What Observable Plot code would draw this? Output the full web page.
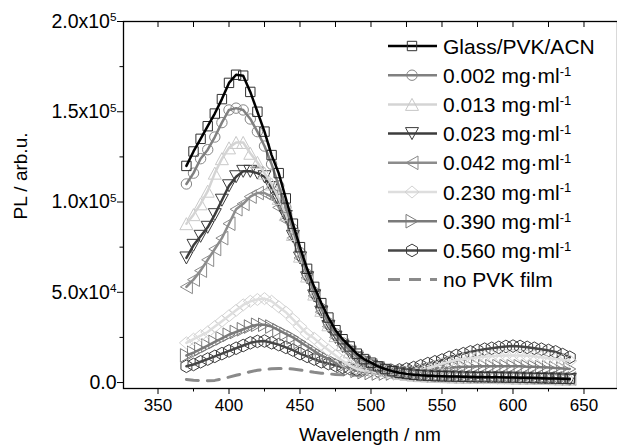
<!DOCTYPE html>
<html><head><meta charset="utf-8">
<script src="https://cdn.jsdelivr.net/npm/d3@7"></script>
<script src="https://cdn.jsdelivr.net/npm/@observablehq/plot@0.6"></script>
<style>
body{margin:0;background:#fff}
#chart{position:relative;width:617px;height:446px}
</style>
</head><body><div id="chart"></div>
<script>
// ---------- data (PL in units of 1000 arb.u.) ----------
const wavelength = [370,375,380,385,390,395,400,405,410,415,420,425,430,435,440,445,450,455,460,465,470,475,480,485,490,495,500,505,510,515,520,525,530,535,540,545,550,555,560,565,570,575,580,585,590,595,600,605,610,615,620,625,630,635,640];

const plGlass = [120,128,135,142,149,157,166,170.5,170,161,150,139,126,116,102,88,75,63,53,44,36,29,24,20,16,13,11,9,7.5,6.3,5.4,4.8,4.3,4.0,3.8,3.6,3.5,3.4,3.3,3.2,3.1,3.0,3.0,2.9,2.9,2.8,2.8,2.7,2.6,2.5,2.4,2.3,2.2,2.1,2.0];
const pl0002 = [110,116,124,129,136,144,151,152,151,146,139,131,121,109,97,85,72,60,50,41,33,27,22,18,14.5,12,10,8.5,7.2,6.2,5.4,4.8,4.4,4.1,3.9,3.7,3.6,3.5,3.4,3.3,3.2,3.2,3.1,3.0,3.0,2.9,2.9,2.8,2.7,2.6,2.5,2.4,2.3,2.2,2.1];
const pl0013 = [88,93,99,106,116,124,130,133,133,127,122,116,110,102,93,82,70,59,49,40,32,26,21,17,14,11.5,9.5,8,6.8,5.8,5.0,4.5,4.1,3.8,3.6,3.4,3.3,3.2,3.1,3.0,2.9,2.9,2.8,2.8,2.7,2.7,2.6,2.5,2.5,2.4,2.3,2.2,2.1,2.0,1.9];
const pl0023 = [69,76,81,86,93,101,109,114,117,117,116,114,108,101,92,81,69,58,48,39,31,25,20,16.5,13.5,11,9,7.5,6.4,5.5,4.8,4.3,3.9,3.6,3.4,3.2,3.1,3.0,2.9,2.8,2.7,2.7,2.6,2.6,2.5,2.5,2.4,2.3,2.3,2.2,2.1,2.0,1.9,1.8,1.7];
const pl0042 = [53,57,62,68,74,80,88,96,99,103,105,105,103,97,90,80,69,58,48,39,31,25,20.5,17,14,11.5,9.5,8,6.8,5.9,5.2,4.7,4.3,4.0,3.8,3.6,3.5,3.4,3.3,3.2,3.2,3.1,3.1,3.0,3.0,2.9,2.9,2.8,2.8,2.7,2.6,2.5,2.4,2.3,2.2];
const pl0230 = [22,24,26,28,31,34,37,40,43,45,46,46.5,45,42,39,35,31,27,24.5,21,18,15,12,9.5,7.5,6.5,6,5.5,5.3,5.2,5.3,5.5,6,6.8,7.8,9,10.5,11.5,12.5,13,13.5,14,14.3,14.6,14.8,15,15,15,14.8,14.5,14,13.5,13,12.5,12];
const pl0390 = [15,16.5,18.5,20.5,22.5,24.5,26.5,28,29.5,31,32,32,31,29,27,25,22.5,20,17.5,15,13,11,9,7.5,6.5,5.8,5.3,5,5,5,5.2,5.5,6,6.5,7,7.5,8,8.3,8.5,8.7,8.8,9,9,9,9,9,9,9,8.8,8.7,8.5,8.3,8,7.8,7.5];
const pl0560 = [9,10,11.5,13,14.5,16,17.5,19,20.5,22,22.8,23,22,21,19.5,18,16,14.5,13,11.5,10.5,9.5,8.5,7.8,7.2,6.8,6.5,6.3,6.3,6.5,7,7.5,8.3,9.3,10.5,11.5,12.5,14,15,16,17,17.8,18.5,19,19.5,20,20.2,20,19.5,19,18.5,17.8,17,15.5,14];
const wavelengthNoPVK = [370,375,380,385,390,395,400,405,410,415,420,425,430,435,440,445,450,455,460,465,470,475,480,485,490,495,500];
const plNoPVK = [1.7,1.3,1.1,1.0,1.2,2,3,4,5,6,6.8,7.3,7.6,7.8,7.8,7.5,7,6.3,5.7,5.2,4.8,4.5,4.3,4.2,4.1,4.0,4.0];

const seriesLabels = ["Glass/PVK/ACN","0.002","0.013","0.023","0.042","0.230","0.390","0.560","no PVK film"];
const seriesUnit = "mg·ml";
const seriesUnitExp = "-1";

const xMajorTicks = [350,400,450,500,550,600,650];
const xMinorTicks = [375,425,475,525,575,625];
const xTopTicks = [350,375,400,425,450,475,500,525,550,575,600,625,650];
const yMajorTicks = [0,50000,100000,150000,200000];
const yTickLabels = ["0.0","5.0x10^4","1.0x10^5","1.5x10^5","2.0x10^5"];
const yMinorTicks = [25000,75000,125000,175000];

// ---------- symbols ----------
function S(f){return {draw(c,size){const k=Math.sqrt(size/Math.PI)/5; f(c,k);}};}
const symbols = {
  square: S((c,k)=>{const h=4.7*k;c.moveTo(-h,-h);c.lineTo(h,-h);c.lineTo(h,h);c.lineTo(-h,h);c.closePath();}),
  circle: S((c,k)=>{const r=5.2*k;c.moveTo(r,0);c.arc(0,0,r,0,2*Math.PI);}),
  triUp: S((c,k)=>{const w=6.5*k,h=6*k;c.moveTo(0,-h);c.lineTo(w,h);c.lineTo(-w,h);c.closePath();}),
  triDown: S((c,k)=>{const w=6.5*k,h=6*k;c.moveTo(0,h);c.lineTo(w,-h);c.lineTo(-w,-h);c.closePath();}),
  triLeft: S((c,k)=>{const w=6*k,h=6.8*k;c.moveTo(-w,0);c.lineTo(w,-h);c.lineTo(w,h);c.closePath();}),
  diamond: S((c,k)=>{const w=7*k,h=6*k;c.moveTo(0,-h);c.lineTo(w,0);c.lineTo(0,h);c.lineTo(-w,0);c.closePath();}),
  triRight: S((c,k)=>{const w=6*k,h=6.8*k;c.moveTo(w,0);c.lineTo(-w,-h);c.lineTo(-w,h);c.closePath();}),
  hexagon: S((c,k)=>{const r=6.3*k,a=r*0.866;c.moveTo(0,-r);c.lineTo(a,-r/2);c.lineTo(a,r/2);c.lineTo(0,r);c.lineTo(-a,r/2);c.lineTo(-a,-r/2);c.closePath();})
};

const styles = [
  {line:"#000000", mark:"#303030", sym:symbols.square},
  {line:"#808080", mark:"#858585", sym:symbols.circle},
  {line:"#d4d4d4", mark:"#c8c8c8", sym:symbols.triUp},
  {line:"#3c3c3c", mark:"#3c3c3c", sym:symbols.triDown},
  {line:"#8c8c8c", mark:"#8a8a8a", sym:symbols.triLeft},
  {line:"#dedede", mark:"#d2d2d2", sym:symbols.diamond},
  {line:"#7a7a7a", mark:"#7a7a7a", sym:symbols.triRight},
  {line:"#464646", mark:"#3c3c3c", sym:symbols.hexagon},
  {line:"#8a8a8a", dash:"12,9"}
];

const seriesValues = [plGlass, pl0002, pl0013, pl0023, pl0042, pl0230, pl0390, pl0560];
const tables = seriesValues.map(vals => wavelength.map((w,i)=>({w, pl: vals[i]*1000})));
const noPVKTable = wavelengthNoPVK.map((w,i)=>({w, pl: plNoPVK[i]*1000}));

const marks = [];
marks.push(Plot.line(noPVKTable, {x:"w", y:"pl", stroke:styles[8].line, strokeWidth:3, strokeDasharray:styles[8].dash}));
for (let s = 7; s >= 0; s--) {
  const st = styles[s];
  marks.push(Plot.dot(tables[s], {x:"w", y:"pl", symbol:st.sym, r:5, stroke:st.mark, fill:"none", strokeWidth:1}));
  marks.push(Plot.line(tables[s], {x:"w", y:"pl", stroke:st.line, strokeWidth:2.5}));
}
marks.push(
  Plot.axisX({ticks:xMajorTicks, tickSize:6, tickPadding:4, fontSize:17, tickFormat:d=>String(d), label:null}),
  Plot.axisX({ticks:xMinorTicks, tickSize:3.5, tickFormat:()=>"", label:null}),
  Plot.axisX({anchor:"top", ticks:xTopTicks, tickSize:-5, tickFormat:()=>"", label:null}),
  Plot.axisY({ticks:yMajorTicks, tickSize:6, tickPadding:1, fontSize:19.5, tickFormat:d=>yTickLabels[yMajorTicks.indexOf(d)], label:null}),
  Plot.axisY({ticks:yMinorTicks, tickSize:3.5, tickFormat:()=>"", label:null}),
  Plot.frame({stroke:"#000", strokeWidth:1.3})
);

const chart = Plot.plot({
  width:617, height:446,
  marginLeft:123, marginRight:0, marginTop:21, marginBottom:58,
  x:{domain:[325.7,673.6]},
  y:{domain:[-3300,200000]},
  style:{fontFamily:"'Liberation Sans', Arial, sans-serif", fontSize:"17px", color:"#000", background:"#fff", overflow:"visible"},
  marks
});
document.getElementById("chart").appendChild(chart);

const svg = d3.select(chart);
// superscripts in y tick labels
svg.selectAll('g[aria-label="y-axis tick label"] text').each(function(){
  const t = d3.select(this); const s = t.text();
  if (s.includes("^")) {
    const [b,e] = s.split("^");
    t.text(null);
    t.append("tspan").text(b);
    t.append("tspan").attr("dy","-0.55em").attr("font-size","0.6em").text(e);
  }
});

// axis titles
svg.append("text").attr("x",370).attr("y",441).attr("text-anchor","middle")
  .attr("font-size",19).attr("fill","#000").text("Wavelength / nm");
svg.append("text").attr("transform","translate(27,176) rotate(-90)").attr("text-anchor","middle")
  .attr("font-size",19).attr("fill","#000").text("PL / arb.u.");

// legend
const lg = svg.append("g").attr("font-size",21).attr("fill","#000").attr("text-anchor","start");
seriesLabels.forEach((lab,i)=>{
  const y = 46 + i*29.2;
  const st = styles[i];
  lg.append("line").attr("x1",388).attr("x2",437).attr("y1",y).attr("y2",y)
    .attr("stroke",st.line).attr("stroke-width",i===8?3:2.5)
    .attr("stroke-dasharray", st.dash || null);
  if (st.sym) {
    lg.append("path").attr("transform",`translate(412,${y})`)
      .attr("d", d3.symbol(st.sym, Math.PI*25)())
      .attr("fill","none").attr("stroke",st.mark).attr("stroke-width",1);
  }
  const t = lg.append("text").attr("x",443).attr("y",y).attr("dy","0.36em");
  if (i===0 || i===8) t.text(lab);
  else {
    t.append("tspan").text(lab + " " + seriesUnit);
    t.append("tspan").attr("dy","-0.55em").attr("font-size","0.62em").text(seriesUnitExp);
  }
});
</script>
</body></html>
